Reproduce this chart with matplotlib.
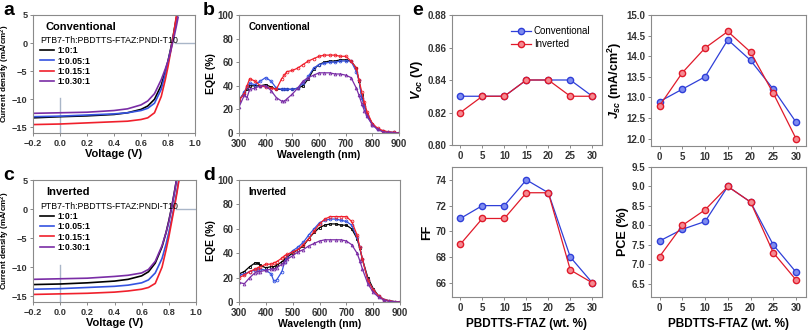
import numpy as np
import matplotlib.pyplot as plt

plt.rcParams['font.family'] = ['Liberation Sans', 'DejaVu Sans']
plt.rcParams['mathtext.fontset'] = 'custom'
plt.rcParams['mathtext.rm'] = 'Liberation Sans:bold'
plt.rcParams['mathtext.it'] = 'Liberation Sans:italic:bold'
plt.rcParams['mathtext.bf'] = 'Liberation Sans:bold'

# ---- data ----
ratios = ['1:0:1', '1:0.05:1', '1:0.15:1', '1:0.30:1']
colors = ['#000000', '#3553e0', '#f0202c', '#7a2da6']

# J-V, conventional
v_conv = [-0.2, 0.0, 0.2, 0.4, 0.5, 0.6, 0.65, 0.7, 0.75, 0.78, 0.8, 0.82, 0.84, 0.86, 0.875]
j_conv = [
    [-13.3, -13.1, -12.95, -12.7, -12.4, -11.8, -11.2, -10.0, -7.5, -5.0, -3.2, -1.0, 1.5, 4.2, 6.0],
    [-13.1, -13.0, -12.8, -12.6, -12.4, -12.0, -11.6, -10.7, -8.2, -5.5, -3.5, -1.2, 1.2, 4.0, 6.0],
    [-14.5, -14.4, -14.2, -14.0, -13.9, -13.6, -13.3, -12.4, -9.5, -6.5, -4.2, -1.5, 1.3, 4.5, 6.5],
    [-12.5, -12.4, -12.3, -12.0, -11.7, -11.0, -10.3, -9.0, -6.5, -4.6, -3.2, -1.4, 0.6, 2.8, 4.6],
]
# J-V, inverted
v_inv = [-0.2, 0.0, 0.2, 0.4, 0.5, 0.6, 0.65, 0.7, 0.75, 0.78, 0.8, 0.82, 0.84, 0.86, 0.88]
j_inv = [
    [-13.0, -12.9, -12.7, -12.4, -12.1, -11.5, -10.8, -9.3, -6.5, -4.0, -2.0, 0.2, 2.8, 5.5, 8.0],
    [-13.8, -13.7, -13.5, -13.3, -13.1, -12.7, -12.2, -11.0, -8.5, -6.0, -4.0, -1.8, 0.6, 3.2, 6.0],
    [-14.7, -14.6, -14.5, -14.3, -14.1, -13.8, -13.5, -12.8, -10.0, -7.0, -4.8, -2.3, 0.2, 2.8, 5.8],
    [-12.1, -12.0, -11.9, -11.6, -11.4, -11.0, -10.4, -9.0, -6.3, -4.0, -2.2, 0.2, 2.7, 5.5, 8.0],
]

# EQE, conventional
wl_conv = [300, 320, 330, 340, 360, 380, 400, 420, 440, 460, 470, 480, 500, 520, 540, 560, 580, 600,
           620, 640, 660, 680, 700, 720, 740, 750, 760, 770, 780, 800, 820, 840, 860, 880, 900]
eqe_conv = [
    [28, 34, 37, 40, 40, 40, 41, 39, 37, 37, 37, 37, 37, 38, 40, 46, 54, 58,
     60, 61, 61, 62, 62, 61, 55, 44, 32, 24, 16, 8, 3, 1.5, 0.7, 0.3, 0],
    [27, 35, 39, 42, 41, 44, 47, 44, 38, 37, 37, 37, 37, 38, 42, 48, 55, 58,
     59, 60, 60, 61, 61, 61, 52, 45, 30, 23, 15, 7, 3, 1.5, 1, 0.5, 0],
    [28, 33, 40, 46, 44, 40, 39, 38, 37, 46, 49, 52, 53, 55, 58, 61, 63, 65,
     66, 66, 66, 65, 65, 61, 55, 45, 35, 26, 18, 8, 4, 2, 1, 0.5, 0],
    [22, 32, 30, 37, 38, 40, 40, 36, 30, 27, 27, 29, 33, 38, 44, 47, 49, 51,
     51, 51, 50, 50, 49, 47, 38, 32, 25, 19, 14, 7, 3, 1, 0.5, 0.2, 0],
]
# EQE, inverted
wl_inv = [300, 320, 340, 360, 370, 380, 400, 420, 430, 440, 460, 470, 480, 500, 520, 540, 560, 580,
          600, 620, 640, 660, 680, 700, 720, 740, 750, 760, 780, 800, 820, 840, 860, 880, 900]
eqe_inv = [
    [23, 25, 29, 32, 32, 30, 28, 29, 29, 30, 33, 35, 37, 40, 43, 46, 52, 57,
     61, 63, 64, 64, 63, 63, 60, 52, 44, 35, 20, 11, 5, 2, 1, 0.3, 0],
    [22, 23, 25, 26, 27, 27, 26, 23, 17, 18, 25, 33, 38, 42, 45, 49, 55, 60,
     65, 67, 68, 68, 67, 66, 63, 53, 45, 35, 18, 10, 5, 2, 1, 0.3, 0],
    [20, 22, 25, 27, 28, 29, 31, 31, 32, 33, 36, 38, 39, 41, 43, 47, 52, 58,
     64, 68, 70, 70, 70, 70, 66, 55, 45, 35, 18, 10, 5, 2, 1, 0.3, 0],
    [16, 15, 20, 24, 25, 25, 26, 27, 27, 28, 31, 33, 35, 38, 41, 43, 46, 48,
     50, 51, 51, 51, 51, 50, 47, 40, 34, 27, 15, 8, 4, 1.5, 0.5, 0.2, 0],
]
markers = ['s', 'o', 'o', '^']

# device parameters vs PBDTTS-FTAZ content
wt = [0, 5, 10, 15, 20, 25, 30]
voc_conv = [0.83, 0.83, 0.83, 0.84, 0.84, 0.84, 0.83]
voc_inv = [0.82, 0.83, 0.83, 0.84, 0.84, 0.83, 0.83]
jsc_conv = [12.9, 13.2, 13.5, 14.4, 13.9, 13.2, 12.4]
jsc_inv = [12.8, 13.6, 14.2, 14.6, 14.1, 13.1, 12.0]
ff_conv = [71, 72, 72, 74, 73, 68, 66]
ff_inv = [69, 71, 71, 73, 73, 67, 66]
pce_conv = [7.6, 7.9, 8.1, 9.0, 8.6, 7.5, 6.8]
pce_inv = [7.2, 8.0, 8.4, 9.0, 8.6, 7.3, 6.6]

W, H = 808, 334
fig = plt.figure(figsize=(W / 100, H / 100), dpi=100)


def box(x0, x1, y0, y1):
    # pixel box -> figure fraction axes
    return fig.add_axes([x0 / W, 1 - y1 / H, (x1 - x0) / W, (y1 - y0) / H])


def style(ax, size=7):
    for s in ax.spines.values():
        s.set_color('#8a8a8a')
        s.set_linewidth(0.8)
    ax.tick_params(direction='out', length=2.5, width=0.7, color='#8a8a8a',
                   labelsize=size, pad=1.5)
    for t in ax.get_xticklabels() + ax.get_yticklabels():
        t.set_fontweight('bold')
        t.set_color('#333333')


lab = dict(fontsize=7.5, fontweight='bold')

# ---- J-V panels ----
for ax_box, v, js, name in [((33, 195, 15, 133), v_conv, j_conv, 'Conventional'),
                            ((33, 196, 180, 302), v_inv, j_inv, 'Inverted')]:
    ax = box(*ax_box)
    ax.axvline(0, ymin=0, ymax=0.3, color='#a9b6c8', lw=1)
    ax.axhline(0, xmin=0.875, xmax=1, color='#a9b6c8', lw=1)
    for j, c, r in zip(js, colors, ratios):
        ax.plot(v, j, color=c, lw=1.2, label=r)
    ax.set_xlim(-0.2, 1.0)
    ax.set_ylim(-16, 5)
    ax.set_xticks([-0.2, 0.0, 0.2, 0.4, 0.6, 0.8, 1.0])
    ax.set_yticks([-15, -10, -5, 0, 5])
    ax.set_xlabel('Voltage (V)', labelpad=1, fontsize=8, fontweight='bold')
    ax.set_ylabel('Current density (mA/cm$^2$)', fontsize=5.8, fontweight='bold')
    ax.text(0.08, 0.9, name, transform=ax.transAxes, fontsize=8, fontweight='bold', va='center')
    leg = ax.legend(loc='upper left', bbox_to_anchor=(0.04, 0.83), frameon=False,
                    title='PTB7-Th:PBDTTS-FTAZ:PNDI-T10', fontsize=6.3,
                    title_fontsize=6.3, handlelength=1.6, handletextpad=0.4,
                    labelspacing=0.15, borderpad=0.1, borderaxespad=0)
    leg._legend_box.align = 'left'
    for t in leg.get_texts():
        t.set_fontweight('bold')
    style(ax, 6.6)
    ax.yaxis.set_label_coords(-0.128, 0.5)

# ---- EQE panels ----
for ax_box, wl, eqs, name in [((239, 399, 15, 133), wl_conv, eqe_conv, 'Conventional'),
                              ((239, 400, 180, 302), wl_inv, eqe_inv, 'Inverted')]:
    ax = box(*ax_box)
    for e, c, m in zip(eqs, colors, markers):
        ax.plot(wl, e, color=c, lw=0.9, marker=m, ms=2.0, mfc='none', mew=0.6)
    ax.set_xlim(300, 900)
    ax.set_ylim(0, 100)
    ax.set_xticks([300, 400, 500, 600, 700, 800, 900])
    ax.set_yticks([0, 20, 40, 60, 80, 100])
    ax.set_xlabel('Wavelength (nm)', labelpad=1, **lab)
    ax.set_ylabel('EQE (%)', labelpad=1, **lab)
    ax.text(0.06, 0.9, name, transform=ax.transAxes, fontsize=7, fontweight='bold', va='center')
    style(ax)

# ---- parameter panels ----
blue, red = '#2f3fd8', '#e01a2a'
params = [
    ((452, 602, 15, 145), voc_conv, voc_inv, (0.80, 0.88), [0.80, 0.82, 0.84, 0.86, 0.88],
     '$V_{oc}$ (V)', False, '%.2f'),
    ((651, 806, 15, 146), jsc_conv, jsc_inv, (11.82, 15.0), [12.0, 12.5, 13.0, 13.5, 14.0, 14.5, 15.0],
     '$J_{sc}$ (mA/cm$^2$)', False, '%.1f'),
    ((452, 602, 167, 297), ff_conv, ff_inv, (64.9, 75.0), [66, 68, 70, 72, 74],
     'FF', True, '%d'),
    ((651, 806, 167, 297), pce_conv, pce_inv, (6.16, 9.5), [6.5, 7.0, 7.5, 8.0, 8.5, 9.0, 9.5],
     'PCE (%)', True, '%.1f'),
]
for i, (ax_box, yc, yi, ylim, yt, ylab, show_x, fmt) in enumerate(params):
    ax = box(*ax_box)
    ax.plot(wt, yc, color=blue, lw=0.9, marker='o', ms=4.5, mfc='#7f8cf0', mec=blue,
            mew=1.0, label='Conventional')
    ax.plot(wt, yi, color=red, lw=0.9, marker='o', ms=4.5, mfc='#f58a92', mec=red,
            mew=1.0, label='Inverted')
    ax.set_xlim(-1.9, 32.2)
    ax.set_ylim(*ylim)
    ax.set_xticks(wt)
    ax.set_yticks(yt)
    ax.set_yticklabels([fmt % t for t in yt])
    ax.set_ylabel(ylab, fontsize=9, fontweight='bold', labelpad=2)
    if show_x:
        ax.set_xlabel('PBDTTS-FTAZ (wt. %)', fontsize=8.5, fontweight='bold', labelpad=4)
    if i == 0:
        leg = ax.legend(loc='upper right', bbox_to_anchor=(0.98, 0.98), frameon=False,
                        fontsize=7, handlelength=2.0, handletextpad=0.3, labelspacing=0.3)
    style(ax)

# panel letters
for x, y, s in [(3, 2, 'a'), (203, 2, 'b'), (412, 2, 'e'), (3, 167, 'c'), (203, 167, 'd')]:
    fig.text(x / W, 1 - y / H, s, fontsize=14, fontweight='bold', va='top', ha='left')

fig.savefig('out.png', dpi=100)
